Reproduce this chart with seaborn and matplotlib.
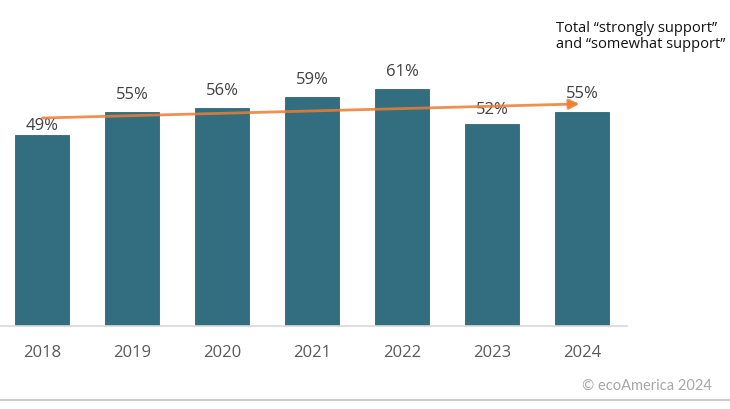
import numpy as np
import pandas as pd
import matplotlib.pyplot as plt
import seaborn as sns
from matplotlib.lines import Line2D

years = ['2018', '2019', '2020', '2021', '2022', '2023', '2024']
support = [49, 55, 56, 59, 61, 52, 55]

# label gaps above each bar (points), as placed in the original
label_pad = [2, 7, 7, 7, 7, 5, 8]

sns.set_style('white')
plt.rcParams['font.family'] = ['Open Sans', 'DejaVu Sans']

df = pd.DataFrame({'year': years, 'support': support})

fig = plt.figure(figsize=(7.3, 4.1), dpi=100)
ax = fig.add_axes([0.0, 0.203, 0.859, 0.744])

sns.barplot(data=df, x='year', y='support', color='#336D80', saturation=1,
            width=0.6, edgecolor='#2F6576', linewidth=0.6, ax=ax)

for bar, val, pad in zip(ax.patches, support, label_pad):
    ax.annotate(f'{val}%', (bar.get_x() + bar.get_width() / 2, bar.get_height()),
                xytext=(0, pad), textcoords='offset points',
                ha='center', va='bottom', fontsize=12, color='#404040')

# linear trend of the totals, drawn as an arrow
x = np.arange(len(support))
slope, icpt = np.polyfit(x, support, 1)
x0, x1 = 0, 5.97
ax.annotate('', xy=(x1, icpt + slope * x1), xytext=(x0, icpt + slope * x0),
            arrowprops=dict(arrowstyle='-|>,head_length=0.6,head_width=0.3',
                            color='#ED7D31', lw=2, alpha=0.85,
                            shrinkA=0, shrinkB=0), zorder=5)

ax.set_xlim(-0.47, 6.5)
ax.set_ylim(0, 78.5)
ax.set_xlabel('')
ax.set_ylabel('')
ax.set_yticks([])
ax.tick_params(axis='x', length=0, pad=13, labelsize=12, labelcolor='#595959')
sns.despine(ax=ax, left=True)
ax.spines['bottom'].set_color('#D9D9D9')
ax.spines['bottom'].set_linewidth(1.2)

fig.text(556 / 730, 1 - 21 / 410, 'Total \u201cstrongly support\u201d\nand \u201csomewhat support\u201d',
         ha='left', va='top', fontsize=10.5, color='#111111', linespacing=1.1)

fig.text(712 / 730, 1 - 386 / 410, '\u00a9 ecoAmerica 2024', ha='right', va='center',
         fontsize=10.5, color='#A6A6A6', family=['Lato', 'DejaVu Sans'])

fig.add_artist(Line2D([0, 1], [1 - 401 / 410] * 2, color='#C4C4C4', lw=1.2))

fig.savefig('out.png', dpi=100)
